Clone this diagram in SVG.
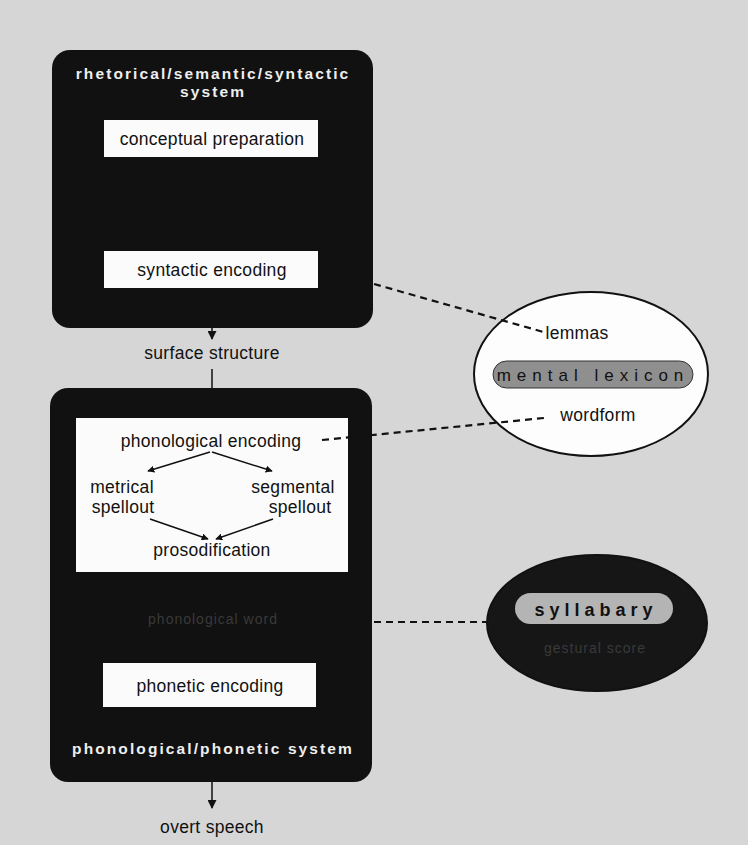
<svg xmlns="http://www.w3.org/2000/svg" width="748" height="845" viewBox="0 0 748 845">
<style>
.lbl{font-family:"Liberation Sans",Arial,sans-serif;font-size:17.5px;fill:#111;text-anchor:middle;letter-spacing:0.3px}
.ttl{font-family:"Liberation Sans",Arial,sans-serif;font-size:15.5px;font-weight:bold;fill:#eee;text-anchor:middle;letter-spacing:2.1px}
.faint{font-family:"Liberation Sans",Arial,sans-serif;font-size:14px;fill:#3a3a3a;text-anchor:middle;letter-spacing:1px}
.box{fill:#111}
.wbox{fill:#fbfbfb}
.ln{stroke:#111;stroke-width:1.5;fill:none}
.dash{stroke:#111;stroke-width:2.2;fill:none;stroke-dasharray:7 5}
</style>
<defs>
<marker id="ah" viewBox="0 0 10 10" refX="9" refY="5" markerWidth="7" markerHeight="7" orient="auto-start-reverse" markerUnits="userSpaceOnUse">
<path d="M0,0 L10,5 L0,10 z" fill="#111"/>
</marker>
<marker id="ah2" viewBox="0 0 10 10" refX="9" refY="5" markerWidth="11" markerHeight="9" orient="auto" markerUnits="userSpaceOnUse">
<path d="M0,0 L10,5 L0,10 z" fill="#111"/>
</marker>
</defs>
<rect width="748" height="845" fill="#d6d6d6"/>

<g id="rss">
<rect class="box" x="52" y="50" width="321" height="278" rx="18"/>
<text class="ttl" x="213" y="79">rhetorical/semantic/syntactic</text>
<text class="ttl" x="213" y="97">system</text>
</g>
<g id="conceptual">
<rect class="wbox" x="104" y="120" width="214" height="37"/>
<text class="lbl" x="212" y="145">conceptual preparation</text>
</g>
<g id="syntactic">
<rect class="wbox" x="104" y="251" width="214" height="37"/>
<text class="lbl" x="212" y="276">syntactic encoding</text>
</g>
<g id="surface">
<text class="lbl" x="212" y="359">surface structure</text>
</g>

<g id="pps">
<rect class="box" x="50" y="388" width="322" height="394" rx="18"/>
<text class="ttl" x="213" y="754">phonological/phonetic  system</text>
<text class="faint" x="213" y="624">phonological word</text>
</g>
<g id="phonological">
<rect class="wbox" x="76" y="418" width="272" height="154"/>
<text class="lbl" x="211" y="447">phonological encoding</text>
<text class="lbl" x="122" y="493">metrical</text>
<text class="lbl" x="123" y="513">spellout</text>
<text class="lbl" x="293" y="493">segmental</text>
<text class="lbl" x="300" y="513">spellout</text>
<text class="lbl" x="212" y="556">prosodification</text>
</g>
<g id="phonetic">
<rect class="wbox" x="103" y="663" width="213" height="44"/>
<text class="lbl" x="210" y="692">phonetic encoding</text>
</g>
<g id="overt">
<text class="lbl" x="212" y="833">overt speech</text>
</g>

<g id="lexicon">
<ellipse cx="591" cy="374" rx="117" ry="82" fill="#fdfdfd" stroke="#111" stroke-width="2"/>
<text class="lbl" x="577" y="339">lemmas</text>
<rect x="493" y="361" width="200" height="27" rx="13.5" fill="#8f8f8f" stroke="#333" stroke-width="1"/>
<text x="593" y="381" style="font-family:'Liberation Sans',Arial,sans-serif;font-size:17px;fill:#111;text-anchor:middle;letter-spacing:6px">mental lexicon</text>
<text class="lbl" x="598" y="421">wordform</text>
</g>

<g id="syllabary">
<ellipse cx="597" cy="623" rx="110" ry="68" fill="#161616" stroke="#111" stroke-width="2"/>
<rect x="515" y="593" width="158" height="31" rx="15.5" fill="#b4b4b4"/>
<text x="596" y="616" style="font-family:'Liberation Sans',Arial,sans-serif;font-size:18px;font-weight:bold;fill:#111;text-anchor:middle;letter-spacing:5px">syllabary</text>
<text class="faint" x="595" y="653">gestural score</text>
</g>

<g id="connectors">
<line class="ln" x1="212" y1="328" x2="212" y2="339" marker-end="url(#ah2)"/>
<line class="ln" x1="212" y1="369" x2="212" y2="388"/>
<line class="ln" x1="210" y1="452" x2="148" y2="471" marker-end="url(#ah)"/>
<line class="ln" x1="212" y1="452" x2="272" y2="471" marker-end="url(#ah)"/>
<line class="ln" x1="150" y1="519" x2="208" y2="539" marker-end="url(#ah)"/>
<line class="ln" x1="273" y1="519" x2="216" y2="539" marker-end="url(#ah)"/>
<line class="ln" x1="212" y1="782" x2="212" y2="808" marker-end="url(#ah2)"/>
<line class="dash" x1="374" y1="284" x2="547" y2="333"/>
<line class="dash" x1="322" y1="440" x2="544" y2="418"/>
<line class="dash" x1="374" y1="622" x2="487" y2="622"/>
</g>
</svg>
